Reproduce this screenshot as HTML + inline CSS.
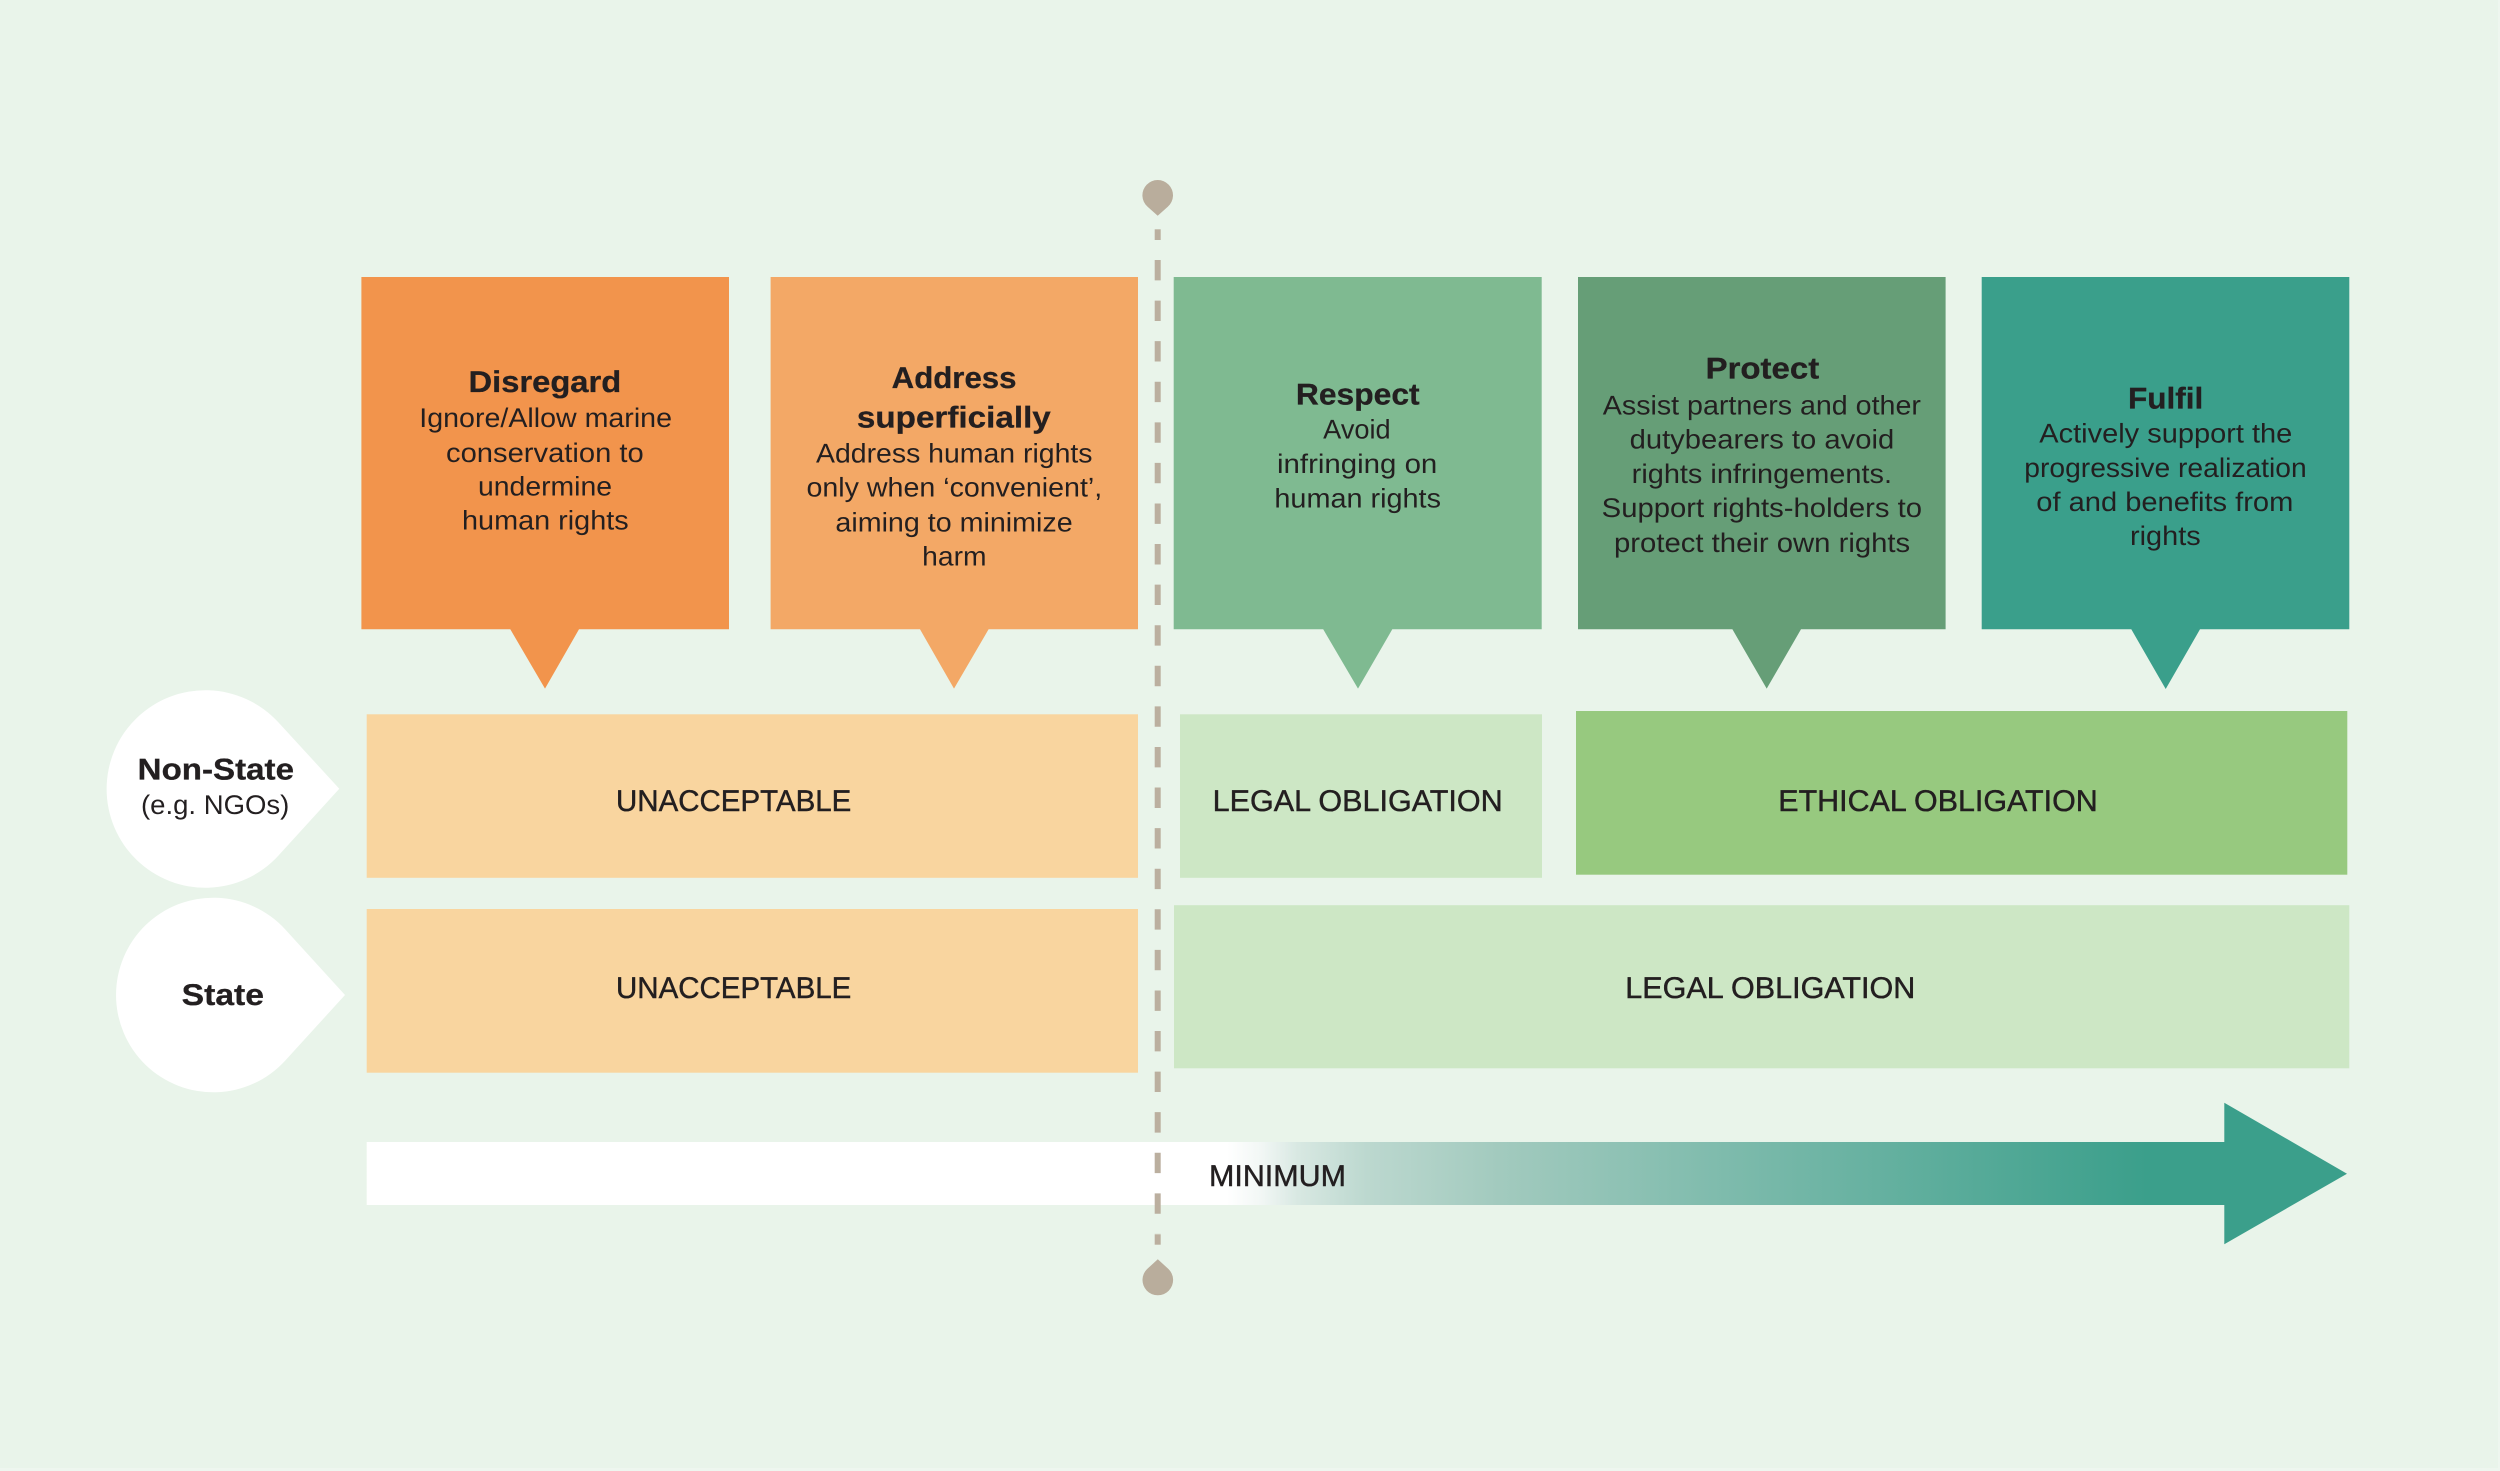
<!DOCTYPE html>
<html lang="en">
<head>
<meta charset="utf-8">
<title>Human rights obligations in marine conservation</title>
<style>
html,body{margin:0;padding:0;background:#e9f4ea;}
svg{display:block;}
text{font-family:"Liberation Sans",sans-serif;fill:#231f20;text-rendering:geometricPrecision;}
.h{font-size:30px;font-weight:700;stroke:#231f20;stroke-width:.3px;}
.b{font-size:27px;}
.l{font-size:30px;stroke:#231f20;stroke-width:.45px;}
</style>
</head>
<body>
<svg xmlns="http://www.w3.org/2000/svg" width="2500" height="1471" viewBox="0 0 2500 1471">
<defs>
<linearGradient id="g" gradientUnits="userSpaceOnUse" x1="366" y1="0" x2="2230" y2="0">
<stop offset="0.462" stop-color="#ffffff"/>
<stop offset="0.48" stop-color="#f2f7f5"/>
<stop offset="0.5" stop-color="#d8e8e2"/>
<stop offset="0.537" stop-color="#bcd8cf"/>
<stop offset="0.608" stop-color="#a2cabe"/>
<stop offset="0.955" stop-color="#3b9f8b"/>
</linearGradient>
</defs>
<rect width="2500" height="1471" fill="#e9f4ea"/>
<rect y="1468" width="2500" height="3" fill="#eef6ef"/>
<rect x="2498" width="2" height="1471" fill="#eef6ef"/>

<!-- callouts -->
<path d="M361.4 277H729V629.3H579L545 688.6L510.3 629.3H361.4Z" fill="#f2944c"/>
<path d="M770.6 277H1138V629.3H988.6L954 688.6L920 629.3H770.6Z" fill="#f3a866"/>
<path d="M1173.7 277H1541.7V629.3H1392.3L1358 688.6L1323.2 629.3H1173.7Z" fill="#7fba91"/>
<path d="M1578 277H1945.6V629.3H1801L1766.7 688.6L1732.4 629.3H1578Z" fill="#669e77"/>
<path d="M1981.7 277H2349.3V629.3H2200L2165.7 689L2131.3 629.3H1981.7Z" fill="#3a9f8b"/>

<!-- rows -->
<rect x="366.7" y="714.3" width="771.3" height="163.5" fill="#f9d59f"/>
<rect x="366.7" y="909" width="771.3" height="163.7" fill="#f9d59f"/>
<rect x="1180" y="714.3" width="362" height="163.5" fill="#cde7c5"/>
<rect x="1576" y="711" width="771.3" height="163.7" fill="#97c97f"/>
<rect x="1174" y="905.2" width="1175.3" height="163.1" fill="#cde7c5"/>

<!-- teardrops -->
<path d="M339.3 788.7L278.4 722.4A98.8 98.8 0 1 0 278.4 855.6Z" fill="#fff"/>
<path d="M345 995L285.2 929.4A97.3 97.3 0 1 0 285.2 1060.6Z" fill="#fff"/>

<!-- arrow -->
<path d="M366.7 1142H2224.3V1102.7L2347 1173.7L2224.3 1244.3V1205H366.7Z" fill="url(#g)"/>

<!-- dashed line -->
<rect x="1154.7" y="229.3" width="6" height="10.7" fill="#bbaf9f"/>
<line x1="1157.7" y1="260" x2="1157.7" y2="1234" stroke="#bbaf9f" stroke-width="6" stroke-dasharray="20.4 20.18"/>
<rect x="1154.7" y="1234.3" width="6" height="10.4" fill="#bbaf9f"/>
<path d="M1157.7 215.7L1147.6 206.8A15.3 15.3 0 1 1 1167.8 206.8Z" fill="#b9ad9c"/>
<path d="M1157.8 1259.3L1147.7 1268.5A15.3 15.3 0 1 0 1167.9 1268.5Z" fill="#b9ad9c"/>

<!-- callout text -->
<text class="h" x="468.5" y="392" textLength="152.7" lengthAdjust="spacingAndGlyphs">Disregard</text>
<text class="b" x="419.3" y="427" textLength="252.7" lengthAdjust="spacingAndGlyphs">Ignore/Allow marine</text>
<text class="b" x="446" y="461.8" textLength="197.7" lengthAdjust="spacingAndGlyphs">conservation to</text>
<text class="b" x="478" y="495.7" textLength="134" lengthAdjust="spacingAndGlyphs">undermine</text>
<text class="b" x="462" y="529.6" textLength="166.7" lengthAdjust="spacingAndGlyphs">human rights</text>

<text class="h" x="891.7" y="388" textLength="124.8" lengthAdjust="spacingAndGlyphs">Address</text>
<text class="h" x="856.9" y="427.5" textLength="193.9" lengthAdjust="spacingAndGlyphs">superficially</text>
<text class="b" x="816" y="462.5" textLength="276.5" lengthAdjust="spacingAndGlyphs">Address human rights</text>
<text class="b" x="806.5" y="496.4" textLength="295.7" lengthAdjust="spacingAndGlyphs">only when ‘convenient’,</text>
<text class="b" x="835.4" y="531.4" textLength="237.3" lengthAdjust="spacingAndGlyphs">aiming to minimize</text>
<text class="b" x="922.2" y="565.4" textLength="64.3" lengthAdjust="spacingAndGlyphs">harm</text>

<text class="h" x="1295.9" y="404.6" textLength="123.7" lengthAdjust="spacingAndGlyphs">Respect</text>
<text class="b" x="1323.2" y="438.6" textLength="67.5" lengthAdjust="spacingAndGlyphs">Avoid</text>
<text class="b" x="1277" y="473.2" textLength="160.3" lengthAdjust="spacingAndGlyphs">infringing on</text>
<text class="b" x="1274.4" y="507.5" textLength="166.6" lengthAdjust="spacingAndGlyphs">human rights</text>

<text class="h" x="1705.6" y="378.6" textLength="113.6" lengthAdjust="spacingAndGlyphs">Protect</text>
<text class="b" x="1602.8" y="414.3" textLength="318.1" lengthAdjust="spacingAndGlyphs">Assist partners and other</text>
<text class="b" x="1629.6" y="448.6" textLength="264.6" lengthAdjust="spacingAndGlyphs">dutybearers to avoid</text>
<text class="b" x="1631.7" y="482.9" textLength="260.3" lengthAdjust="spacingAndGlyphs">rights infringements.</text>
<text class="b" x="1601.7" y="517" textLength="320.3" lengthAdjust="spacingAndGlyphs">Support rights-holders to</text>
<text class="b" x="1614" y="551.8" textLength="296.2" lengthAdjust="spacingAndGlyphs">protect their own rights</text>

<text class="h" x="2128" y="408.3" textLength="75.3" lengthAdjust="spacingAndGlyphs">Fulfil</text>
<text class="b" x="2039.3" y="442.7" textLength="253" lengthAdjust="spacingAndGlyphs">Actively support the</text>
<text class="b" x="2024.3" y="477" textLength="282.4" lengthAdjust="spacingAndGlyphs">progressive realization</text>
<text class="b" x="2036.3" y="511" textLength="257" lengthAdjust="spacingAndGlyphs">of and benefits from</text>
<text class="b" x="2130" y="545" textLength="70.7" lengthAdjust="spacingAndGlyphs">rights</text>

<!-- row labels -->
<text class="h" x="137.7" y="779.3" textLength="156.3" lengthAdjust="spacingAndGlyphs">Non-State</text>
<text class="b" x="141" y="814" textLength="148.3" lengthAdjust="spacingAndGlyphs">(e.g. NGOs)</text>
<text class="h" x="181.7" y="1005" textLength="82.3" lengthAdjust="spacingAndGlyphs">State</text>

<text class="l" x="616" y="811" textLength="235.3" lengthAdjust="spacingAndGlyphs">UNACCEPTABLE</text>
<text class="l" x="616" y="998" textLength="235.3" lengthAdjust="spacingAndGlyphs">UNACCEPTABLE</text>
<text class="l" x="1212.7" y="811" textLength="290" lengthAdjust="spacingAndGlyphs">LEGAL OBLIGATION</text>
<text class="l" x="1778.3" y="811" textLength="319.4" lengthAdjust="spacingAndGlyphs">ETHICAL OBLIGATION</text>
<text class="l" x="1625.3" y="998" textLength="290" lengthAdjust="spacingAndGlyphs">LEGAL OBLIGATION</text>
<text class="l" x="1209" y="1186" textLength="137" lengthAdjust="spacingAndGlyphs">MINIMUM</text>
</svg>
</body>
</html>
